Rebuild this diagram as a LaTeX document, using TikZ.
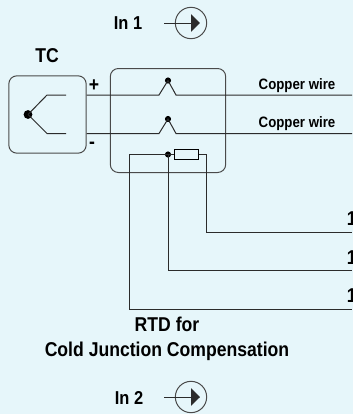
\documentclass[tikz,border=0pt]{standalone}
\usepackage{fontspec}
\setmainfont{Liberation Sans}
\newfontfamily\tallfont[FakeStretch=0.88]{Liberation Sans Bold}
\usepackage{amsmath}
\usepackage{tikz}
\usetikzlibrary{calc, positioning, arrows.meta}
\definecolor{panelbg}{HTML}{E6F6FA}
\definecolor{wirecol}{HTML}{2B2B2B}
\definecolor{boxcol}{HTML}{4A4A4A}
\tikzset{
  wire/.style={draw=wirecol, line width=.75pt, line join=miter},
  casebox/.style={draw=boxcol, line width=.75pt, rounded corners=6pt, inner sep=0pt},
  joint/.style={circle, fill=black, inner sep=0pt, minimum size=4.6pt},
  bigjoint/.style={circle, fill=black, inner sep=0pt, minimum size=6.6pt},
  rtdbox/.style={draw=black, fill=panelbg, line width=.75pt, inner sep=0pt, minimum width=17.3pt, minimum height=8.2pt},
  inring/.style={circle, draw=boxcol, line width=.75pt, inner sep=0pt, minimum size=23.5pt},
  biglabel/.style={font=\tallfont\fontsize{15}{17}\selectfont, inner sep=0pt},
  inlabel/.style={font=\tallfont\fontsize{14}{17}\selectfont, inner sep=0pt},
  smalllabel/.style={font=\tallfont\fontsize{11.3}{13}\selectfont, inner sep=0pt},
}

\begin{document}
\begin{tikzpicture}[>=latex, x=.75pt, y=-.75pt]
  \useasboundingbox (0,0) rectangle (353,414);
  \clip (0,0) rectangle (353,414);
  \fill [panelbg] (0,0) rectangle (353,414);

  % boxes
  \node (tc) at (47.5,114.5) [casebox, minimum width=58pt, minimum height=58pt] {};
  \node (input) at (168,120.5) [casebox, minimum width=86.5pt, minimum height=78pt] {};
  \node (tclabel) at (47,56) [biglabel] {TC};
  \node (plus) at (94,85.5) [biglabel] {+};
  \node (minus) at (92,145) [biglabel] {-};

  % thermocouple
  \node (tcjoint) at (28,114.5) [bigjoint] {};
  \coordinate (tcup) at (47,95);
  \coordinate (tcupend) at (66,95);
  \coordinate (tcdown) at (47,133.5);
  \coordinate (tcdownend) at (66,133.5);
  \draw [wire] (tcjoint.center) -- (tcup) -- (tcupend);
  \draw [wire] (tcjoint.center) -- (tcdown) -- (tcdownend);

  % copper wires
  \node (peaka) at (168,80.5) [joint] {};
  \node (peakb) at (168,119) [joint] {};
  \coordinate (wireaend) at (352,95);
  \coordinate (wirebend) at (352,133.5);
  \draw [wire] (tc.east |- wireaend) -- (159,95) -- (peaka.center) -- (176,95) -- (wireaend);
  \draw [wire] (tc.east |- wirebend) -- (159,133.5) -- (peakb.center) -- (176,133.5) -- (wirebend);
  \node (coppera) at (297,85.5) [smalllabel] {Copper wire};
  \node (copperb) at (297,124) [smalllabel] {Copper wire};

  % rtd
  \node (rtdjoint) at (168,154.5) [joint] {};
  \node (rtd) at (186.5,154.5) [rtdbox] {};
  \coordinate (rtdturn) at (206,154.5);
  \coordinate (lineaend) at (352,232);
  \coordinate (linebend) at (352,270.5);
  \coordinate (linecend) at (352,309);
  \coordinate (rtdleft) at (129.5,154.5);
  \draw [wire] (rtd.east) -- (rtdturn) -- (rtdturn |- lineaend) -- (lineaend);
  \draw [wire] (rtdjoint.center) -- (rtdjoint.center |- linebend) -- (linebend);
  \draw [wire] (rtd.west) -- (rtdleft) -- (rtdleft |- linecend) -- (linecend);
  \node (onea) at (346.5,219) [biglabel, anchor=west] {1};
  \node (oneb) at (346.5,258) [biglabel, anchor=west] {1};
  \node (onec) at (346.5,296) [biglabel, anchor=west] {1};
  \node (rtdtext) at (167,324.5) [biglabel] {RTD for};
  \node (cjctext) at (167,351) [biglabel] {Cold Junction Compensation};

  % inputs
  \node (inatext) at (128,23) [inlabel] {In 1};
  \node (inaring) at (191,23) [inring] {};
  \coordinate (inastart) at (164,23);
  \coordinate (inatip) at (200,23);
  \draw [wire, -{Triangle[length=6.6pt,width=13pt]}] (inastart) -- (inatip);
  \node (inbtext) at (129,398) [inlabel] {In 2};
  \node (inbring) at (191,397) [inring] {};
  \coordinate (inbstart) at (164,397);
  \coordinate (inbtip) at (200,397);
  \draw [wire, -{Triangle[length=6.6pt,width=13pt]}] (inbstart) -- (inbtip);
\end{tikzpicture}
\end{document}
